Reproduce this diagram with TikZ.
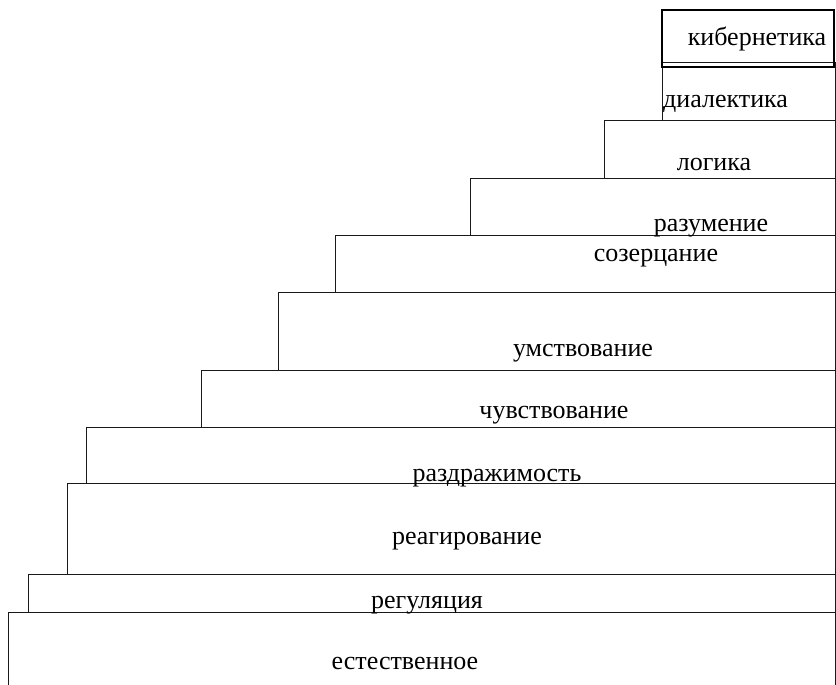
\documentclass[tikz,border=0pt]{standalone}
\usepackage{fontspec}
\setmainfont{Liberation Serif}

\begin{document}
\begin{tikzpicture}[x=1pt,y=-1pt,
  stair/.style={draw=black!90,line width=0.9pt},
  word/.style={font=\fontsize{26}{28}\selectfont,inner sep=0pt,anchor=base}]
  \useasboundingbox (0,0) rectangle (836,685);
  % the steps, from the ground up
  \draw[stair] (8,686) |- (835,612) -- (835,686);
  \draw[stair] (28,574) rectangle (835,612);
  \draw[stair] (67,483) rectangle (835,574);
  \draw[stair] (86,427) rectangle (835,483);
  \draw[stair] (201,370) rectangle (835,427);
  \draw[stair] (278,292) rectangle (835,370);
  \draw[stair] (335,235) rectangle (835,292);
  \draw[stair] (470,178) rectangle (835,235);
  \draw[stair] (604,120) rectangle (835,178);
  \draw[stair] (662,62) rectangle (835,120);
  \draw[line width=2.6pt] (662,10) rectangle (834,67);
  % labels
  \node[word] (est) at (405,669) {естественное};
  \node[word] (reg) at (427,608) {регуляция};
  \node[word] (rea) at (467,544) {реагирование};
  \node[word] (raz) at (497,481) {раздражимость};
  \node[word] (chu) at (554,418) {чувствование};
  \node[word] (umst) at (583,356) {умствование};
  \node[word] (soz) at (656,261) {созерцание};
  \node[word] (razum) at (711,231) {разумение};
  \node[word] (log) at (714,170) {логика};
  \node[word,anchor=base west] (dial) at (663,107) {диалектика};
  \node[word] (kib) at (757,46) {кибернетика};
\end{tikzpicture}
\end{document}
